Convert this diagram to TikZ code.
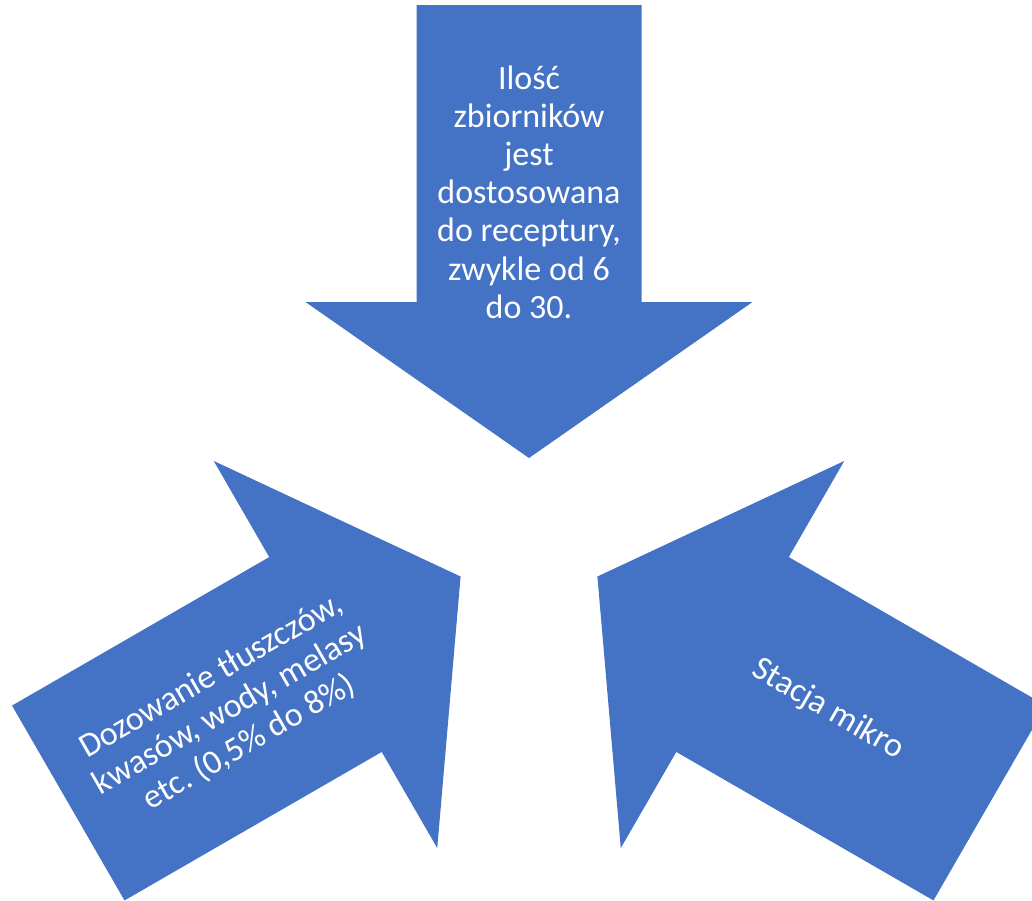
\documentclass[tikz,border=0pt]{standalone}
\usepackage{fontspec}
\setmainfont{Carlito}
\usetikzlibrary{calc}
\definecolor{accent}{HTML}{4472C4}
\frenchspacing
\begin{document}
\begin{tikzpicture}[x=1pt,y=1pt,
  bigarrow/.style={fill=accent, draw=none},
  lbl/.style={text=white, align=center, font=\fontsize{34}{38.2}\selectfont, inner sep=0pt}]
\useasboundingbox (0,0) rectangle (1032,-900);
\clip (0,0) rectangle (1032,-900);
\coordinate (C) at (529,-537);
\foreach \r in {0,120,-120}{
  \path[bigarrow, shift={(529,-537)}, rotate=\r]
    (-112.5,532) -- (112.5,532) -- (112.5,235) -- (223.5,235) -- (0,79)
    -- (-223.5,235) -- (-112.5,235) -- cycle;
}
\node[lbl] (top) at ($(C)+(90:345)$) {Ilość\\zbiorników\\jest\\dostosowana\\do receptury,\\zwykle od 6\\do 30.};
\node[lbl, rotate=30] (left) at ($(C)+(210:345)$) {Dozowanie tłuszczów,\\kwasów, wody, melasy\\etc. (0,5\% do 8\%)};
\node[lbl, rotate=-30] (right) at ($(C)+(-30:345)$) {Stacja mikro};
\end{tikzpicture}
\end{document}
